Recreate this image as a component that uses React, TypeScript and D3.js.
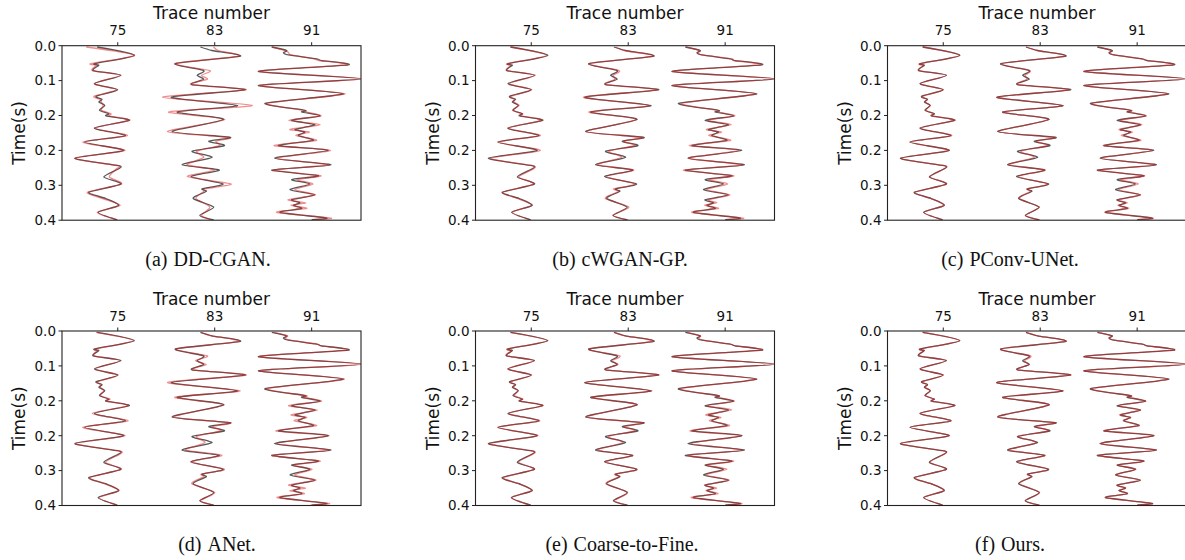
import React from 'react';
import * as d3 from 'd3';

// ---------- data ----------
const traceNumbers = [75, 83, 91];
const xTickLabels = ['75', '83', '91'];
const yTickValues = [0, 0.08, 0.16, 0.24, 0.32, 0.4];
const yTickLabels = ['0.0', '0.1', '0.2', '0.2', '0.3', '0.4'];
const panelLetters = ['(a)', '(b)', '(c)', '(d)', '(e)', '(f)'];
const panelNames = ['DD-CGAN.', 'cWGAN-GP.', 'PConv-UNet.', 'ANet.', 'Coarse-to-Fine.', 'Ours.'];

const time75 = [0.003, 0.022, 0.041, 0.045, 0.057, 0.068, 0.087, 0.101, 0.116, 0.123, 0.129, 0.137, 0.148, 0.156, 0.161, 0.171, 0.189, 0.206, 0.221, 0.240, 0.258, 0.275, 0.282, 0.301, 0.317, 0.336, 0.350, 0.366, 0.382, 0.399];
const time83 = [0.003, 0.011, 0.024, 0.041, 0.057, 0.068, 0.077, 0.089, 0.101, 0.118, 0.137, 0.152, 0.169, 0.197, 0.210, 0.219, 0.229, 0.242, 0.256, 0.273, 0.285, 0.300, 0.317, 0.328, 0.334, 0.350, 0.370, 0.389, 0.399];
const time91 = [0.003, 0.011, 0.016, 0.021, 0.030, 0.034, 0.044, 0.059, 0.076, 0.091, 0.110, 0.132, 0.148, 0.152, 0.161, 0.171, 0.181, 0.192, 0.198, 0.206, 0.217, 0.229, 0.240, 0.258, 0.273, 0.285, 0.298, 0.307, 0.317, 0.330, 0.342, 0.353, 0.360, 0.366, 0.373, 0.382, 0.395, 0.399];

// ground truth (black), amplitude in trace units
const true75 = [-1.70, 1.37, -1.89, -1.56, -2.03, 0.27, -1.92, 0.00, -1.78, -1.29, -1.56, -1.07, -1.51, -0.74, -0.96, 0.96, -1.92, 0.63, -2.74, 0.49, -3.54, 0.08, 0.08, -1.15, 0.27, -2.39, -1.02, 0.08, -1.62, -0.05];
const true83 = [-1.18, -0.22, 2.11, -3.24, -0.91, -1.45, -0.91, -1.87, 2.52, -3.59, 1.89, -3.10, 0.74, -3.51, 1.29, -0.49, 0.80, -1.87, -0.22, -2.69, 0.38, -1.95, 0.69, -1.04, -0.69, -1.78, -0.08, -1.23, -0.08];
const true91 = [-3.29, -2.06, -2.33, -1.92, 0.41, 0.82, 3.02, -4.39, 4.12, -4.39, 2.61, -3.84, -0.55, -0.82, 0.69, -1.65, 0.27, -1.37, -0.55, -1.10, 0.14, -2.74, 1.37, -3.07, 1.59, -3.29, 0.55, -1.65, -0.14, -1.78, 0.27, -1.65, -0.96, -1.51, -0.82, -2.61, 1.23, 0.00];

// reconstructions (red)
const predA75 = [-2.60, 1.40, -2.20, -1.75, -2.10, 0.20, -1.95, -0.10, -1.95, -1.45, -1.35, -1.20, -1.35, -0.55, -0.70, 1.00, -1.95, 0.80, -2.90, 0.60, -3.55, 0.05, -0.10, -0.70, 0.30, -2.50, -1.30, 0.20, -1.70, -0.05];
const predA83 = [-0.10, 0.30, 1.95, -3.30, -0.40, -1.10, -0.60, -1.95, 2.60, -4.30, 3.10, -3.80, 0.85, -3.90, 1.20, 0.10, 0.40, -1.50, -0.90, -2.30, 0.00, -2.25, 1.35, -0.80, -0.90, -1.55, -0.40, -1.10, -0.30];
const predA91 = [-3.30, -2.20, -1.90, -1.70, 0.20, 0.60, 2.90, -4.40, 4.40, -4.40, 2.75, -3.70, -0.70, -0.40, 0.75, -1.90, 0.70, -1.80, -0.20, -1.30, 0.40, -3.10, 1.55, -2.90, 1.40, -3.20, 0.75, -1.20, 0.10, -1.40, 0.30, -1.95, -0.50, -1.70, -0.40, -2.90, 1.60, 0.20];

const predB75 = [-1.75, 1.25, -1.95, -1.70, -1.95, 0.35, -1.80, 0.05, -1.70, -1.40, -1.45, -1.00, -1.55, -0.70, -0.85, 0.90, -1.95, 0.75, -2.80, 0.75, -3.35, 0.10, 0.20, -1.05, 0.20, -2.35, -1.15, 0.05, -1.55, -0.05];
const predB83 = [-1.00, -0.35, 2.05, -3.20, -0.75, -1.25, -1.10, -1.80, 2.45, -3.70, 1.75, -3.25, 0.70, -3.45, 1.15, -0.40, 0.55, -1.60, -0.55, -2.55, 0.45, -1.80, 0.55, -1.20, -0.80, -1.90, 0.05, -1.30, 0.00];
const predB91 = [-3.20, -2.10, -2.25, -1.95, 0.55, 0.70, 2.90, -4.35, 4.15, -4.35, 2.50, -3.60, -0.65, -0.50, 0.80, -1.45, 0.50, -1.55, -0.30, -1.35, 0.45, -2.95, 1.15, -3.05, 1.40, -3.45, 0.70, -1.35, 0.20, -1.55, 0.40, -1.40, -0.70, -1.70, -0.55, -2.75, 1.50, 0.10];

const predC75 = [-1.70, 1.35, -1.90, -1.60, -2.00, 0.25, -1.90, 0.00, -1.75, -1.35, -1.50, -1.10, -1.45, -0.75, -0.95, 0.95, -1.90, 0.70, -2.75, 0.50, -3.50, 0.10, 0.10, -1.10, 0.25, -2.35, -1.05, 0.10, -1.60, -0.05];
const predC83 = [-1.15, -0.25, 2.05, -3.20, -0.85, -1.25, -1.10, -1.85, 2.45, -3.55, 1.85, -3.10, 0.70, -3.45, 1.20, -0.30, 0.60, -1.60, -0.50, -2.60, 0.40, -1.85, 0.65, -1.10, -0.80, -1.75, -0.10, -1.20, -0.05];
const predC91 = [-3.20, -2.10, -2.25, -1.95, 0.35, 0.90, 2.95, -4.40, 4.10, -4.40, 2.55, -3.75, -0.50, -0.75, 0.75, -1.45, 0.40, -1.50, -0.40, -1.30, 0.30, -2.80, 1.30, -3.00, 1.50, -3.25, 0.60, -1.40, 0.10, -1.55, 0.30, -1.60, -0.80, -1.60, -0.70, -2.65, 1.30, 0.05];

const predD75 = [-1.80, 1.30, -1.80, -1.70, -1.95, 0.20, -1.85, 0.05, -1.65, -1.40, -1.45, -1.15, -1.45, -0.65, -0.90, 0.90, -2.10, 0.85, -2.90, 0.60, -3.50, 0.15, 0.20, -1.00, 0.25, -2.30, -1.10, 0.10, -1.55, -0.05];
const predD83 = [-1.10, -0.30, 2.00, -3.20, -0.60, -1.60, -0.70, -1.80, 2.60, -3.90, 2.10, -3.30, 0.80, -3.40, 1.30, -0.20, 0.50, -1.50, -0.80, -2.40, 0.60, -2.00, 0.80, -1.10, -0.90, -1.90, 0.00, -1.20, -0.10];
const predD91 = [-3.10, -2.00, -2.20, -1.80, 0.45, 0.75, 2.95, -4.40, 4.30, -4.35, 2.70, -3.70, -0.45, -0.70, 0.80, -1.90, 0.45, -1.70, -0.40, -1.45, 0.40, -2.95, 1.45, -2.90, 1.50, -3.30, 0.70, -1.50, 0.05, -1.40, 0.35, -1.90, -0.50, -1.80, -0.60, -2.85, 1.45, -0.10];

const predE75 = [-1.75, 1.30, -1.95, -1.60, -2.05, 0.25, -1.95, 0.05, -1.70, -1.30, -1.50, -1.10, -1.40, -0.70, -0.90, 0.95, -1.85, 0.70, -2.80, 0.55, -3.45, 0.10, 0.15, -1.05, 0.25, -2.30, -1.05, 0.05, -1.65, -0.05];
const predE83 = [-1.10, -0.30, 2.05, -3.25, -0.70, -1.35, -0.85, -1.80, 2.50, -3.55, 1.95, -3.05, 0.75, -3.40, 1.20, -0.30, 0.55, -1.65, -0.45, -2.55, 0.35, -1.90, 0.75, -1.10, -0.75, -1.85, -0.05, -1.15, -0.05];
const predE91 = [-3.15, -2.05, -2.20, -1.85, 0.40, 0.85, 2.95, -4.35, 4.10, -4.35, 2.55, -3.70, -0.60, -0.65, 0.75, -1.50, 0.55, -1.60, -0.35, -1.30, 0.35, -2.90, 1.40, -2.85, 1.45, -3.10, 0.70, -1.55, 0.15, -1.60, 0.35, -1.70, -0.70, -1.60, -0.60, -2.80, 1.35, 0.05];

const predF75 = [-1.70, 1.35, -1.85, -1.60, -2.00, 0.25, -1.90, 0.00, -1.75, -1.30, -1.55, -1.05, -1.50, -0.75, -0.95, 0.95, -1.90, 0.65, -2.75, 0.50, -3.50, 0.05, 0.10, -1.10, 0.25, -2.35, -1.00, 0.10, -1.60, -0.05];
const predF83 = [-1.15, -0.20, 2.10, -3.25, -0.80, -1.30, -0.95, -1.85, 2.50, -3.60, 1.85, -3.10, 0.75, -3.50, 1.25, -0.40, 0.70, -1.80, -0.30, -2.60, 0.40, -1.90, 0.65, -1.00, -0.75, -1.70, -0.05, -1.25, -0.05];
const predF91 = [-3.25, -2.10, -2.30, -1.90, 0.45, 0.80, 3.00, -4.40, 4.15, -4.40, 2.60, -3.80, -0.55, -0.70, 0.70, -1.55, 0.30, -1.45, -0.55, -1.15, 0.15, -2.75, 1.40, -3.05, 1.60, -3.25, 0.55, -1.60, -0.10, -1.75, 0.25, -1.65, -0.95, -1.50, -0.80, -2.60, 1.25, 0.00];

const traceTimes = [time75, time83, time91];
const trueTraces = [true75, true83, true91];
const predictions = [
  [predA75, predA83, predA91],
  [predB75, predB83, predB91],
  [predC75, predC83, predC91],
  [predD75, predD83, predD91],
  [predE75, predE83, predE91],
  [predF75, predF83, predF91],
];

// ---------- layout ----------
const W = 1185;
const H = 560;
const colLeft = [62, 475.5, 887.5];
const rowTop = [45.7, 331];
const PW = 299;
const PH = 174.5;
const captionX = [[208, 620, 1010], [217, 622, 1010]];
const captionY = [266, 551];
const SANS = 'DejaVu Sans, sans-serif';
const SERIF = 'Liberation Serif, Times New Roman, serif';

function Panel({ idx }: { idx: number }) {
  const r = Math.floor(idx / 3);
  const c = idx % 3;
  const left = colLeft[c];
  const top = rowTop[r];
  const x = d3.scaleLinear().domain([70.4, 95.07]).range([left, left + PW]);
  const y = d3.scaleLinear().domain([0, 0.4]).range([top, top + PH]);
  const mk = (trace: number, times: number[], vals: number[]) =>
    d3
      .line<number>()
      .x((v) => x(trace + v))
      .y((_, i) => y(times[i]))
      .curve(d3.curveCardinal.tension(0.35))(vals) || '';
  const clipId = `clip-${idx}`;
  return (
    <g>
      <defs>
        <clipPath id={clipId}>
          <rect x={left} y={top} width={PW} height={PH} />
        </clipPath>
      </defs>
      <g clipPath={`url(#${clipId})`}>
        {traceNumbers.map((tn, k) => (
          <path key={'b' + k} d={mk(tn, traceTimes[k], trueTraces[k])} fill="none" stroke="#2e2e2e" strokeOpacity={0.8} strokeWidth={1.3} strokeLinejoin="round" />
        ))}
        {traceNumbers.map((tn, k) => (
          <path key={'r' + k} d={mk(tn, traceTimes[k], predictions[idx][k])} fill="none" stroke="#e01e1e" strokeOpacity={0.5} strokeWidth={1.3} strokeLinejoin="round" />
        ))}
      </g>
      <rect x={left} y={top} width={PW} height={PH} fill="none" stroke="#222" strokeWidth={1.1} />
      {traceNumbers.map((tn, k) => (
        <g key={'xt' + k}>
          <line x1={x(tn)} x2={x(tn)} y1={top} y2={top - 3.5} stroke="#222" strokeWidth={1} />
          <text x={x(tn)} y={top - 10.5} textAnchor="middle" fontFamily={SANS} fontSize={13.5} fill="#111">
            {xTickLabels[k]}
          </text>
        </g>
      ))}
      {yTickValues.map((tv, k) => (
        <g key={'yt' + k}>
          <line x1={left} x2={left - 3.5} y1={y(tv)} y2={y(tv)} stroke="#222" strokeWidth={1} />
          <text x={left - 6} y={y(tv)} dy="0.36em" textAnchor="end" fontFamily={SANS} fontSize={13.5} fill="#111">
            {yTickLabels[k]}
          </text>
        </g>
      ))}
      <text x={left + PW / 2} y={top - 26.4} textAnchor="middle" fontFamily={SANS} fontSize={17} fill="#111">
        Trace number
      </text>
      <text
        transform={`translate(${left - 43},${top + PH / 2}) rotate(-90)`}
        textAnchor="middle"
        dy="0.36em"
        fontFamily={SANS}
        fontSize={17}
        fill="#111"
      >
        Time(s)
      </text>
      <text x={captionX[r][c]} y={captionY[r]} textAnchor="middle" fontFamily={SERIF} fontSize={20} fill="#111">
        <tspan>{panelLetters[idx]}</tspan>
        <tspan dx={6}>{panelNames[idx]}</tspan>
      </text>
    </g>
  );
}

export default function App() {
  return (
    <svg width={W} height={H} style={{ position: 'absolute', left: 0, top: 0, background: '#fff' }}>
      <rect x={0} y={0} width={W} height={H} fill="#fff" />
      {[0, 1, 2, 3, 4, 5].map((i) => (
        <Panel key={i} idx={i} />
      ))}
    </svg>
  );
}
